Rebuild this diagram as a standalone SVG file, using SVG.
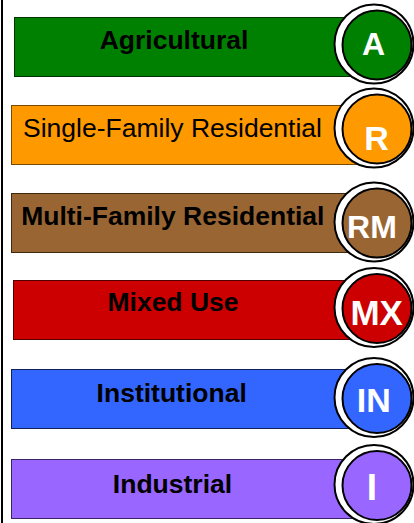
<svg xmlns="http://www.w3.org/2000/svg" width="414" height="523" viewBox="0 0 414 523">
<style>
.lbl{font-family:"Liberation Sans",Arial,sans-serif;font-size:26.5px;fill:#000;text-anchor:middle}
.b{font-weight:bold}
.ab{font-family:"Liberation Sans",Arial,sans-serif;font-weight:bold;fill:#fff;text-anchor:middle}
.ring{fill:#fff;stroke:#000;stroke-width:2}
.dot{stroke:#000;stroke-width:2}
.bar{stroke-width:1}
</style>
<rect width="414" height="523" fill="#fff"/>
<line x1="2" y1="0" x2="2" y2="523" stroke="#000" stroke-width="2"/>
<g id="agricultural">
<rect class="bar" x="14.5" y="17.5" width="350" height="59" fill="#008000" stroke="#003300"/>
<text class="lbl b" x="174" y="49" font-size="26">Agricultural</text>
<circle class="ring" cx="374" cy="44" r="39.5"/>
<circle class="dot" cx="377" cy="45" r="34.5" fill="#008000"/>
<text class="ab" x="373.5" y="55" font-size="32">A</text>
</g>
<g id="single-family">
<rect class="bar" x="11.5" y="105.5" width="350" height="59" fill="#FF9900" stroke="#7a4a00"/>
<text class="lbl" x="172.5" y="136.7">Single-Family Residential</text>
<circle class="ring" cx="374" cy="128" r="39.5"/>
<circle class="dot" cx="377" cy="129" r="34.5" fill="#FF9900"/>
<text class="ab" x="376.5" y="149.7" font-size="34">R</text>
</g>
<g id="multi-family">
<rect class="bar" x="11.5" y="193.5" width="350" height="59" fill="#996633" stroke="#3d2810"/>
<text class="lbl b" x="172.8" y="225">Multi-Family Residential</text>
<circle class="ring" cx="374" cy="222" r="39.5"/>
<circle class="dot" cx="377" cy="223" r="34.5" fill="#996633"/>
<text class="ab" x="372" y="238" font-size="32">RM</text>
</g>
<g id="mixed-use">
<rect class="bar" x="13.5" y="280.5" width="350" height="59" fill="#CC0000" stroke="#550000"/>
<text class="lbl b" x="173" y="311">Mixed Use</text>
<circle class="ring" cx="374" cy="307.5" r="39.5"/>
<circle class="dot" cx="377" cy="308.5" r="34.5" fill="#CC0000"/>
<text class="ab" x="376.7" y="325.3" font-size="35">MX</text>
</g>
<g id="institutional">
<rect class="bar" x="11.5" y="369.5" width="350" height="59" fill="#3366FF" stroke="#10205a"/>
<text class="lbl b" x="171.7" y="401.7">Institutional</text>
<circle class="ring" cx="374" cy="397.5" r="39.5"/>
<circle class="dot" cx="377" cy="398.5" r="34.5" fill="#3366FF"/>
<text class="ab" x="373.8" y="412" font-size="34">IN</text>
</g>
<g id="industrial">
<rect class="bar" x="11.5" y="459.5" width="350" height="59" fill="#9966FF" stroke="#3a2466"/>
<text class="lbl b" x="172.5" y="492.7">Industrial</text>
<circle class="ring" cx="374" cy="484.5" r="39.5"/>
<circle class="dot" cx="377" cy="485.5" r="34.5" fill="#9966FF"/>
<text class="ab" x="372" y="500" font-size="37" font-weight="normal">I</text>
</g>
<g id="connectors"/>
</svg>
